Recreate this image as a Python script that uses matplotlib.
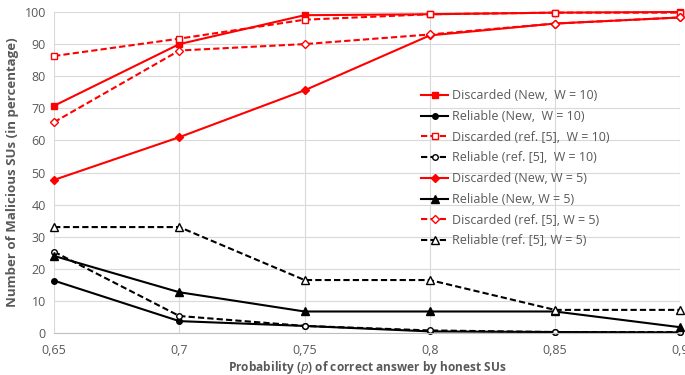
import matplotlib.pyplot as plt
import numpy as np

p_labels = ["0,65", "0,7", "0,75", "0,8", "0,85", "0,9"]

disc_new_10 = [70.8, 90.0, 99.0, 99.3, 99.8, 100.0]
rel_new_10 = [16.3, 3.7, 2.2, 0.5, 0.3, 0.2]
disc_ref_10 = [86.3, 91.7, 97.6, 99.3, 99.8, 99.8]
rel_ref_10 = [25.3, 5.3, 2.2, 0.8, 0.3, 0.3]
disc_new_5 = [47.7, 61.0, 75.6, 92.7, 96.4, 98.3]
rel_new_5 = [24.0, 12.7, 6.7, 6.7, 6.7, 1.8]
disc_ref_5 = [65.7, 88.0, 90.0, 93.0, 96.4, 98.3]
rel_ref_5 = [33.0, 33.0, 16.5, 16.5, 7.2, 7.2]

plt.rcParams['font.family'] = ['Open Sans', 'DejaVu Sans']

fig = plt.figure(figsize=(6.85, 3.75), dpi=100)
ax = fig.add_axes([0.079, 0.112, 0.914, 0.856])

x = np.arange(len(p_labels))
red = '#ff0000'
blk = '#000000'
msizes = {'s': 5, 'o': 4, 'D': 4.3, '^': 5.5}

# (values, label, color, linestyle, marker, filled)
series = [
    (disc_new_10, "Discarded (New,  W = 10)", red, '-', 's', True),
    (rel_new_10, "Reliable (New,  W = 10)", blk, '-', 'o', True),
    (disc_ref_10, "Discarded (ref. [5],  W = 10)", red, '--', 's', False),
    (rel_ref_10, "Reliable (ref. [5],  W = 10)", blk, '--', 'o', False),
    (disc_new_5, "Discarded (New, W = 5)", red, '-', 'D', True),
    (rel_new_5, "Reliable (New, W = 5)", blk, '-', '^', True),
    (disc_ref_5, "Discarded (ref. [5], W = 5)", red, '--', 'D', False),
    (rel_ref_5, "Reliable (ref. [5], W = 5)", blk, '--', '^', False),
]

for vals, lab, col, ls, mk, filled in series:
    ax.plot(x, vals, color=col, linestyle=ls, linewidth=1.5, marker=mk,
            markersize=msizes[mk], markerfacecolor=col if filled else 'white',
            markeredgecolor=col, markeredgewidth=1, label=lab,
            dashes=(3, 1.5) if ls == '--' else (None, None), clip_on=False)

ax.set_xlim(0, len(p_labels) - 1)
ax.set_ylim(0, 100)
ax.set_xticks(x)
ax.set_xticklabels(p_labels)
ax.set_yticks(np.arange(0, 101, 10))
ax.tick_params(axis='both', length=0, colors='#595959', labelsize=9)
ax.tick_params(axis='x', pad=8)
ax.tick_params(axis='y', pad=6)

ax.grid(True, color='#d9d9d9', linewidth=0.8)
ax.set_axisbelow(True)
for s in ['top', 'right', 'left']:
    ax.spines[s].set_visible(False)
ax.spines['bottom'].set_color('#bfbfbf')

ax.set_xlabel("Probability ($\\mathbf{\\it{p}}$) of correct answer by honest SUs",
              fontsize=8.6, fontweight='bold', color='#595959', labelpad=1)
ax.set_ylabel("Number of Malicious SUs (in percentage)", fontsize=9.5,
              fontweight='bold', color='#595959', labelpad=4)

leg = ax.legend(loc='upper left', bbox_to_anchor=(0.578, 0.775), frameon=False,
                fontsize=9, handlelength=2.2, handletextpad=0.3,
                labelspacing=0.62, borderaxespad=0)
for t in leg.get_texts():
    t.set_color('#595959')

fig.savefig('out.png', dpi=100)
